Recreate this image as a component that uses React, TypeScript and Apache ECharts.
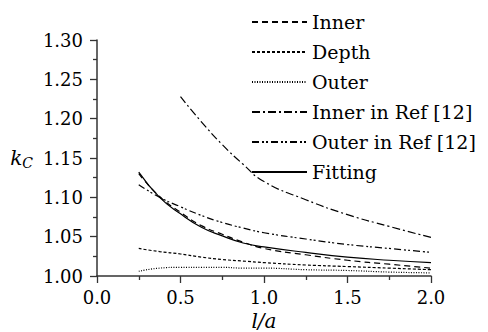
import React, { useEffect, useRef } from "react";
import * as echarts from "echarts";

const xValues = [0.25, 0.375, 0.5, 0.625, 0.75, 0.875, 1.0, 1.25, 1.5, 1.75, 2.0];
const innerVals = [1.130, 1.101, 1.081, 1.064, 1.053, 1.043, 1.035, 1.027, 1.020, 1.015, 1.010];
const depthVals = [1.035, 1.031, 1.028, 1.024, 1.021, 1.019, 1.017, 1.014, 1.012, 1.010, 1.008];
const outerVals = [1.006, 1.010, 1.011, 1.011, 1.011, 1.010, 1.010, 1.008, 1.007, 1.005, 1.004];
const innerRefX = [0.5, 0.625, 0.75, 0.875, 1.0, 1.25, 1.5, 1.75, 2.0];
const innerRefVals = [1.228, 1.196, 1.167, 1.142, 1.120, 1.097, 1.078, 1.063, 1.049];
const outerRefVals = [1.116, 1.100, 1.088, 1.077, 1.068, 1.061, 1.055, 1.047, 1.040, 1.035, 1.030];
const fittingVals = [1.132, 1.100, 1.079, 1.062, 1.051, 1.042, 1.037, 1.030, 1.024, 1.020, 1.017];

const seriesNames = ["Inner", "Depth", "Outer", "Inner in Ref [12]", "Outer in Ref [12]", "Fitting"];

const FONT = "DejaVu Serif";

function pair(xs: number[], ys: number[]) {
  return xs.map((x, i) => [x, ys[i]]);
}

export default function App() {
  const ref = useRef<HTMLDivElement>(null);
  useEffect(() => {
    if (!ref.current) return;
    const chart = echarts.init(ref.current, null, { renderer: "svg" });
    const mk = (name: string, data: number[][], type: any) => ({
      name,
      type: "line",
      data,
      smooth: true,
      symbol: "none",
      showSymbol: false,
      lineStyle: { color: "#000", width: 1.2, type },
      itemStyle: { color: "#000" },
    });
    chart.setOption({
      animation: false,
      backgroundColor: "#fff",
      textStyle: { fontFamily: FONT },
      grid: { left: 97, right: 57, top: 40, bottom: 56, containLabel: false, outerBoundsMode: "none" },
      legend: {
        orient: "vertical",
        left: 251,
        top: 12,
        itemWidth: 55,
        itemHeight: 14,
        itemGap: 10,
        padding: 0,
        data: seriesNames,
        itemStyle: { opacity: 0 },
        textStyle: { fontFamily: FONT, fontSize: 19, color: "#000", lineHeight: 20 },
      },
      xAxis: {
        type: "value",
        min: 0,
        max: 2,
        interval: 0.5,
        name: "l/a",
        nameLocation: "middle",
        nameGap: 34,
        nameTextStyle: { fontFamily: FONT, fontSize: 20, fontStyle: "italic", color: "#000" },
        axisLine: { show: true, lineStyle: { color: "#333", width: 1.5 } },
        axisTick: { show: true, inside: false, length: 7, lineStyle: { color: "#333", width: 1.3 } },
        minorTick: { show: true, splitNumber: 2, length: 4, lineStyle: { color: "#333", width: 1.3 } },
        splitLine: { show: false },
        axisLabel: {
          fontFamily: FONT,
          fontSize: 18,
          color: "#000",
          margin: 12,
          formatter: (v: number) => v.toFixed(1),
        },
      },
      yAxis: {
        type: "value",
        min: 1.0,
        max: 1.3,
        interval: 0.05,
        name: "{k|k}{c|C}",
        nameLocation: "middle",
        nameRotate: 0,
        nameGap: 64,
        nameTextStyle: {
          rich: {
            k: { fontFamily: FONT, fontSize: 20, fontStyle: "italic", color: "#000" },
            c: { fontFamily: FONT, fontSize: 14, fontStyle: "italic", color: "#000", verticalAlign: "bottom", padding: [9, 0, 0, 0] },
          },
        },
        axisLine: { show: true, lineStyle: { color: "#333", width: 1.5 } },
        axisTick: { show: true, inside: false, length: 7, lineStyle: { color: "#333", width: 1.3 } },
        minorTick: { show: true, splitNumber: 2, length: 4, lineStyle: { color: "#333", width: 1.3 } },
        splitLine: { show: false },
        axisLabel: {
          fontFamily: FONT,
          fontSize: 18,
          color: "#000",
          margin: 14,
          formatter: (v: number) => v.toFixed(2),
        },
      },
      series: [
        mk("Inner", pair(xValues, innerVals), [6, 4]),
        mk("Depth", pair(xValues, depthVals), [3, 2]),
        mk("Outer", pair(xValues, outerVals), [1, 1.5]),
        mk("Inner in Ref [12]", pair(innerRefX, innerRefVals), [8, 3, 2, 3]),
        mk("Outer in Ref [12]", pair(xValues, outerRefVals), [7, 3, 2, 2, 2, 3]),
        mk("Fitting", pair(xValues, fittingVals), "solid"),
      ],
    });
    return () => chart.dispose();
  }, []);
  return <div ref={ref} style={{ width: 488, height: 332, position: "absolute", left: 0, top: 0 }} />;
}
